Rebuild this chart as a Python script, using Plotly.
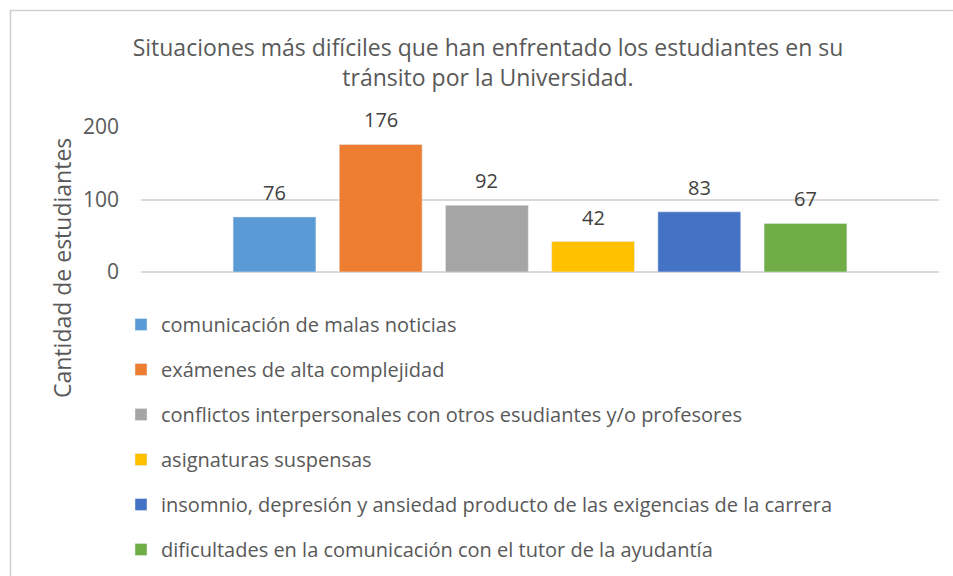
import plotly.graph_objects as go

title_text = "Situaciones más difíciles que han enfrentado los estudiantes en su<br>tránsito por la Universidad."
y_title = "Cantidad de estudiantes"
series_names = [
    "comunicación de malas noticias",
    "exámenes de alta complejidad",
    "conflictos interpersonales con otros esudiantes y/o profesores",
    "asignaturas suspensas",
    "insomnio, depresión y ansiedad producto de las exigencias de la carrera",
    "dificultades en la comunicación con el tutor de la ayudantía",
]
values = [76, 176, 92, 42, 83, 67]
colors = ["#5B9BD5", "#ED7D31", "#A5A5A5", "#FFC000", "#4472C4", "#70AD47"]
y_ticks = [0, 100, 200]

FONT = "Open Sans"
fig = go.Figure()
for i, (n, v, c) in enumerate(zip(series_names, values, colors)):
    fig.add_trace(go.Bar(
        x=[n], y=[v], name=n, marker_color=c, width=0.78,
        legendgroup=f"g{i}", hoverinfo="y",
    ))
    fig.add_annotation(x=n, y=v, text=str(v), showarrow=False, yanchor="bottom",
                       yshift=9, font=dict(family=FONT, size=20, color="#404040"))

W, H = 953, 576
L, R, T, B = 141, 939, 127, 272
pw, ph = R - L, B - T

def px_x(p):
    return (p - L) / pw

def px_y(p):
    return (B - p) / ph

fig.update_layout(
    width=W, height=H,
    margin=dict(l=L, r=W - R, t=T, b=H - B, pad=0, autoexpand=False),
    paper_bgcolor="white", plot_bgcolor="white",
    font=dict(family=FONT, color="#595959"),
    title=dict(text=title_text, x=px_x(488), xanchor="center", xref="paper",
               y=1 - 56 / H, yanchor="middle", yref="container",
               font=dict(family=FONT, size=23, color="#595959")),
    barmode="overlay",
    showlegend=True,
    legend=dict(orientation="v", x=px_x(121), xanchor="left", y=px_y(305), yanchor="top",
                traceorder="grouped", tracegroupgap=16,
                font=dict(family=FONT, size=20, color="#595959"),
                bgcolor="rgba(0,0,0,0)"),
    xaxis=dict(type="category", categoryarray=series_names, range=[-1.257, 6.257],
               showticklabels=False, showgrid=False, zeroline=False, showline=False,
               fixedrange=True),
    yaxis=dict(range=[0, 200], tickvals=y_ticks, showgrid=True, gridcolor="#D9D9D9",
               gridwidth=1.5, zeroline=True, zerolinecolor="#D9D9D9", zerolinewidth=1.5,
               showline=False, tickfont=dict(family=FONT, size=21, color="#595959"),
               ticklabelstandoff=21),
)

fig.add_annotation(text=y_title, textangle=-90, xref="paper", yref="paper",
                   x=px_x(62), y=px_y(268), xanchor="center", yanchor="middle",
                   showarrow=False, font=dict(family=FONT, size=23, color="#595959"))

fig.add_shape(type="rect", xref="paper", yref="paper",
              x0=px_x(10.5), x1=px_x(W + 20), y0=px_y(H + 20), y1=px_y(10.5),
              line=dict(color="#D0D0D0", width=1.5), fillcolor="rgba(0,0,0,0)", layer="below")

fig.write_html("out.html")
